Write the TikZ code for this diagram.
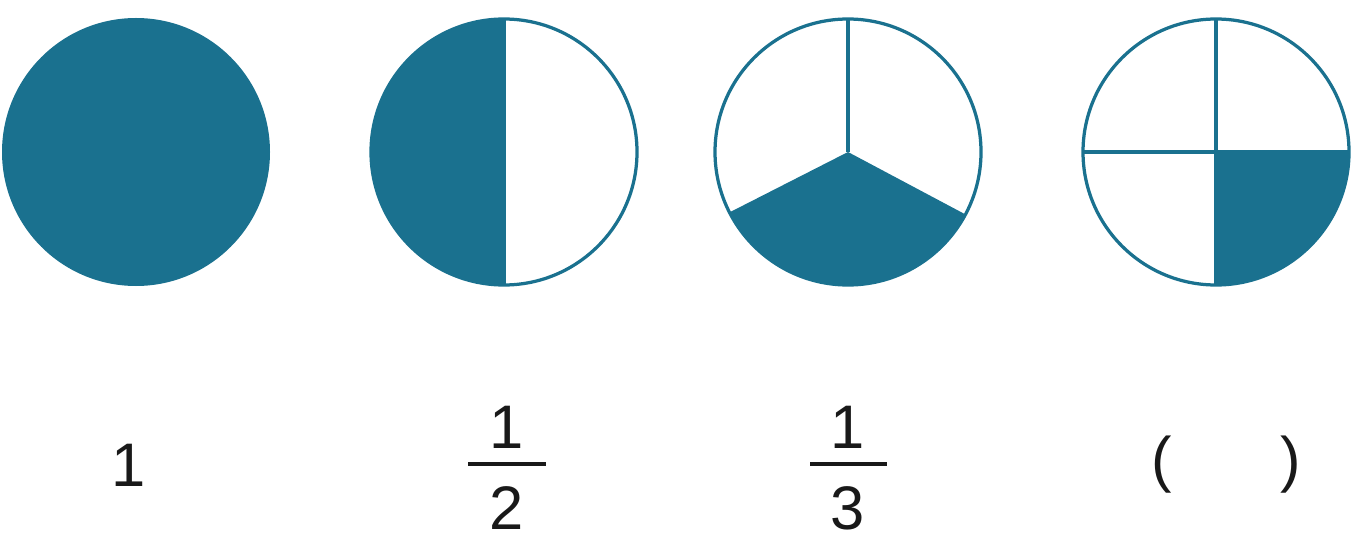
\documentclass[tikz,border=0pt]{standalone}
\usepackage{fontspec}
\setmainfont{Liberation Sans}
\definecolor{pieblue}{RGB}{26,113,143}

\begin{document}
\begin{tikzpicture}[x=0.02cm, y=0.02cm,
    pie/.style={draw=pieblue, line width=0.065cm},
    part/.style={fill=pieblue},
    lab/.style={anchor=base, inner sep=0pt, text=black!90, font=\fontsize{35}{40}\selectfont},
    bar/.style={draw=black!90, line width=0.065cm}]
    \useasboundingbox (0,0) rectangle (1354,538);

    % circle centres
    \coordinate (c1) at (136,386);
    \coordinate (c2) at (504,386);
    \coordinate (c3) at (848,386);
    \coordinate (c4) at (1216,386);

    % whole
    \fill[part] (c1) circle[radius=134];

    % halves
    \fill[part] (c2) ++(0,133) arc[start angle=90, end angle=270, radius=133] -- cycle;
    \draw[pie] (c2) circle[radius=133];
    \draw[pie] (c2) ++(0,133) -- ++(0,-266);

    % thirds
    \fill[part] (c3) -- ++(207:133) arc[start angle=207, end angle=332, radius=133] -- cycle;
    \draw[pie] (c3) circle[radius=133];
    \draw[pie] (c3) -- ++(0,133);

    % quarters
    \fill[part] (c4) -- ++(0,-133) arc[start angle=270, end angle=360, radius=133] -- cycle;
    \draw[pie] (c4) circle[radius=133];
    \draw[pie] (c4) ++(-133,0) -- ++(266,0);
    \draw[pie] (c4) ++(0,-133) -- ++(0,266);

    % labels
    \node[lab] (one) at (129,52) {1};
    \node[lab] (n2) at (507,90) {1};
    \node[lab] (d2) at (507,9) {2};
    \coordinate (b2l) at (468,74);
    \coordinate (b2r) at (546,74);
    \draw[bar] (b2l) -- (b2r);
    \node[lab] (n3) at (848,90) {1};
    \node[lab] (d3) at (848,9) {3};
    \coordinate (b3l) at (810,74);
    \coordinate (b3r) at (887,74);
    \draw[bar] (b3l) -- (b3r);
    \node[lab] (lp) at (1162,58) {(};
    \node[lab] (rp) at (1291,58) {)};
\end{tikzpicture}
\end{document}
